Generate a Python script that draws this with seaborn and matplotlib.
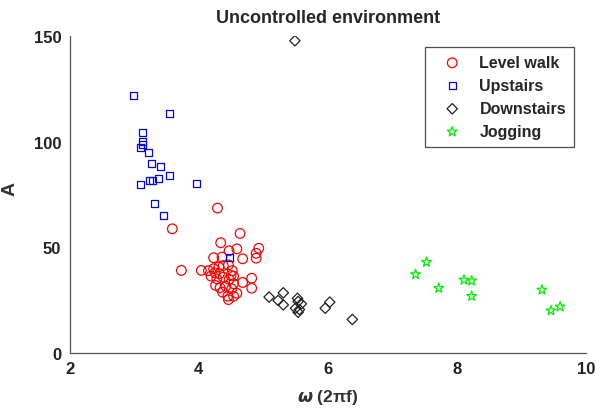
import matplotlib
matplotlib.use("Agg")
import matplotlib.pyplot as plt
import seaborn as sns

# omega (2*pi*f) and amplitude A
walk_w = [4.29, 3.59, 4.64, 4.34, 4.59, 4.93, 4.89, 4.89, 4.47, 4.23, 4.36, 4.68,
          3.73, 4.04, 4.82, 4.82, 4.68, 4.15, 4.23, 4.31, 4.38, 4.46, 4.52, 4.54,
          4.19, 4.28, 4.38, 4.47, 4.54, 4.26, 4.33, 4.42, 4.51, 4.59, 4.37, 4.45,
          4.46, 4.54, 4.32, 4.25, 4.50]
walk_a = [68.5, 58.7, 56.5, 52.1, 49.2, 49.5, 47.1, 44.8, 48.3, 45.0, 45.3, 44.5,
          39.0, 39.0, 35.3, 30.6, 33.3, 38.9, 39.8, 40.6, 41.3, 41.6, 38.9, 36.3,
          36.3, 35.0, 35.8, 34.7, 32.7, 31.9, 30.8, 31.5, 30.3, 28.2, 28.7, 26.8,
          25.2, 26.8, 37.4, 37.9, 36.6]

up_w = [2.99, 3.54, 3.13, 3.13, 3.13, 3.09, 3.22, 3.27, 3.40, 3.55, 3.38, 3.28,
        3.23, 3.09, 3.97, 3.32, 3.46, 4.48]
up_a = [121.6, 113.4, 104.4, 99.9, 98.7, 97.2, 94.7, 89.8, 88.4, 83.9, 82.3, 81.4,
        81.4, 79.7, 80.1, 70.8, 65.0, 45.3]

down_w = [5.49, 5.09, 5.23, 5.31, 5.31, 5.53, 5.54, 5.59, 5.50, 5.54, 5.56, 5.96,
          6.03, 6.38]
down_a = [147.7, 26.4, 24.8, 28.4, 22.7, 25.8, 24.3, 23.2, 21.1, 19.2, 20.5, 21.1,
          24.0, 15.8]

jog_w = [7.53, 7.36, 7.72, 8.11, 8.23, 8.23, 9.32, 9.60, 9.46]
jog_a = [42.9, 37.1, 30.6, 34.5, 34.1, 26.8, 29.8, 21.8, 20.0]

series = [
    ("Level walk", walk_w, walk_a, "o", "#ff0000", 48),
    ("Upstairs", up_w, up_a, "s", "#0000ff", 26),
    ("Downstairs", down_w, down_a, "D", "#222222", 28),
    ("Jogging", jog_w, jog_a, "*", "#00ee00", 55),
]

sns.set_style("white")
plt.rcParams["font.family"] = ["Liberation Sans", "DejaVu Sans"]
plt.rcParams["font.weight"] = "bold"

fig = plt.figure(figsize=(5.96, 4.10), dpi=100)
ax = fig.add_axes([0.117, 0.137, 0.866, 0.773])

for name, w, a, mk, col, size in series:
    sns.scatterplot(x=w, y=a, marker=mk, s=size, facecolor="none",
                    edgecolor=col, linewidth=0.9, label=name, ax=ax)

ax.set_xlim(2, 10)
ax.set_ylim(0, 150)
ax.set_xticks([2, 4, 6, 8, 10])
ax.set_yticks([0, 50, 100, 150])
sns.despine(ax=ax)
for side in ("left", "bottom"):
    ax.spines[side].set_color("#555555")
    ax.spines[side].set_linewidth(0.9)
ax.tick_params(direction="in", length=4, width=0.8, color="#555555",
               labelsize=12, labelcolor="#222222", pad=6)
for lab in ax.get_xticklabels() + ax.get_yticklabels():
    lab.set_fontweight("bold")

ax.set_title("Uncontrolled environment", fontsize=13, fontweight="bold", pad=10)
ax.set_xlabel(r"$\omega$ (2πf)", fontsize=12.5, fontweight="bold",
              color="#333333", labelpad=8)
ax.set_ylabel("A", fontsize=14, fontweight="bold", color="#333333")
ax.yaxis.set_label_coords(-0.10, 0.52)

leg = ax.legend(loc="upper right", bbox_to_anchor=(0.977, 0.965), borderaxespad=0,
                frameon=True, fancybox=False, edgecolor="#222222", borderpad=0.5,
                handletextpad=0.5, labelspacing=0.5, handlelength=2.4,
                prop={"weight": "bold", "size": 11.5})
leg.get_frame().set_linewidth(0.9)

fig.savefig("out.png", dpi=100)
